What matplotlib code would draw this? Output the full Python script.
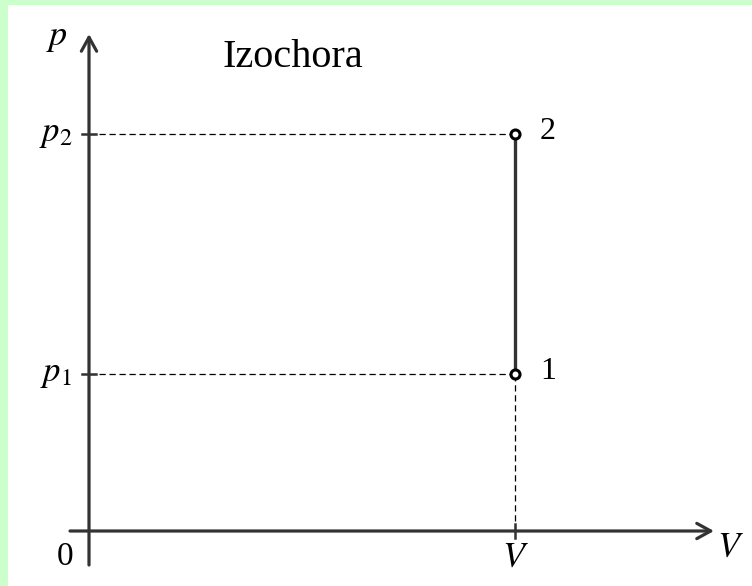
import matplotlib.pyplot as plt
from matplotlib.patches import Rectangle

plt.rcParams['mathtext.fontset'] = 'stix'
plt.rcParams['font.family'] = ['Liberation Serif', 'DejaVu Serif']

# isochoric process: volume constant, pressure rises from p1 to p2
V_value = 1.0
p_values = [1.0, 2.53]
point_names = ['1', '2']
title = 'Izochora'

dark = '#333333'

fig = plt.figure(figsize=(7.52, 5.86), dpi=100)
fig.patch.set_facecolor('#ccffcc')
fig.patches.append(Rectangle((8 / 752, 0), 1, 1 - 5 / 586, transform=fig.transFigure,
                             facecolor='white', edgecolor='none', zorder=-5))

ax = fig.add_axes([0, 0, 1, 1])
ax.set_facecolor('none')
# pixel layout: origin at (89, 531) from top-left, V at x=515, p1 at y=374
x0, y0 = 89, 531
sx = 515 - x0
sy = y0 - 374
ax.set_xlim(-x0 / sx, (752 - x0) / sx)
ax.set_ylim(-(586 - y0) / sy, y0 / sy)
ax.axis('off')

def px(dx):
    return dx / sx

def py(dy):
    return dy / sy

# axes with arrows
head = '->,head_length=1.0,head_width=0.55'
ax.annotate('', xy=(px(714 - x0), 0), xytext=(px(70 - x0), 0),
            arrowprops=dict(arrowstyle=head, lw=2.3, color=dark, shrinkA=0, shrinkB=0))
ax.annotate('', xy=(0, py(y0 - 34)), xytext=(0, py(y0 - 565)),
            arrowprops=dict(arrowstyle=head, lw=2.3, color=dark, shrinkA=0, shrinkB=0))

# dashed guides
for p in p_values:
    ax.plot([0, V_value], [p, p], ls=(0, (5, 3)), lw=0.9, color='black')
    ax.plot([px(-7), px(7)], [p, p], lw=1.8, color=dark)
ax.plot([V_value, V_value], [0, min(p_values)], ls=(0, (5, 3)), lw=0.9, color='black')
ax.plot([V_value, V_value], [py(-7), py(7)], lw=1.8, color=dark)

# process line and states
ax.plot([V_value, V_value], p_values, lw=2.4, color=dark, solid_capstyle='butt')
ax.plot([V_value] * len(p_values), p_values, ls='none', marker='o', ms=6.5,
        mfc='white', mec='black', mew=2.2)
for p, name in zip(p_values, point_names):
    ax.text(V_value + px(25), p - py(5), name, fontsize=23, ha='left', va='baseline')

# labels
ax.text(px(56 - x0), p_values[0], r'$p_1$', fontsize=25, ha='center', va='center')
ax.text(px(56 - x0), p_values[1], r'$p_2$', fontsize=25, ha='center', va='center')
ax.text(px(57 - x0), py(y0 - 38), r'$p$', fontsize=26, ha='center', va='center')
ax.text(px(65 - x0), py(y0 - 557), '0', fontsize=24, ha='center', va='center')
ax.text(V_value, py(y0 - 558), r'$V$', fontsize=26, ha='center', va='center')
ax.text(px(730 - x0), py(y0 - 548), r'$V$', fontsize=26, ha='center', va='center')
ax.text(px(293 - x0), py(y0 - 67), title, fontsize=29, ha='center', va='baseline')

fig.savefig('out.png', dpi=100, facecolor=fig.get_facecolor())
